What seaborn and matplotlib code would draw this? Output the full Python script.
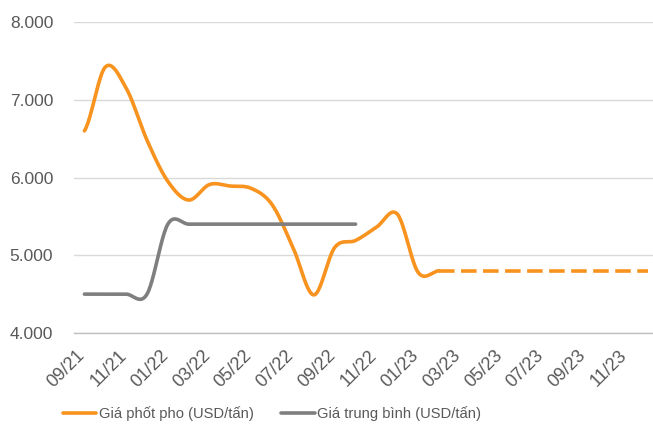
import numpy as np
import matplotlib
matplotlib.use("Agg")
import matplotlib.pyplot as plt
import matplotlib.transforms as mtransforms
import seaborn as sns
from matplotlib.ticker import FuncFormatter, FixedLocator

# Monthly categories 09/21 -> 12/23
months = ["09/21", "10/21", "11/21", "12/21", "01/22", "02/22", "03/22", "04/22",
          "05/22", "06/22", "07/22", "08/22", "09/22", "10/22", "11/22", "12/22",
          "01/23", "02/23", "03/23", "04/23", "05/23", "06/23", "07/23", "08/23",
          "09/23", "10/23", "11/23", "12/23"]

# Phosphorus price (USD/ton), actual 09/21 -> 02/23
phos_price = [6600, 7420, 7150, 6480, 5950, 5710, 5910, 5890, 5860, 5650,
              5100, 4490, 5100, 5190, 5360, 5530, 4780, 4800]
# Forecast 02/23 -> 12/23 (dashed)
phos_forecast = [4800, 4800, 4800, 4800, 4800, 4800, 4800, 4800, 4800, 4800, 4800]
# Average price (USD/ton), 09/21 -> 10/22
avg_price = [4500, 4500, 4500, 4500, 5400, 5400, 5400, 5400, 5400, 5400,
             5400, 5400, 5400, 5400]

ORANGE = "#F7931E"
GRAY = "#7F7F7F"
TEXT = "#595959"


def smooth(values, start=0, steps=24):
    # Excel-like smoothed line (Catmull-Rom bezier between points)
    p = np.asarray(values, dtype=float)
    ext = np.concatenate([[p[0]], p, [p[-1]]])
    xs, ys = [], []
    t = np.linspace(0, 1, steps, endpoint=False)
    for i in range(len(p) - 1):
        p0, p1, p2, p3 = ext[i], ext[i + 1], ext[i + 2], ext[i + 3]
        c1 = p1 + (p2 - p0) / 6
        c2 = p2 - (p3 - p1) / 6
        y = (1 - t) ** 3 * p1 + 3 * (1 - t) ** 2 * t * c1 + 3 * (1 - t) * t ** 2 * c2 + t ** 3 * p2
        xs.append(start + i + t)
        ys.append(y)
    xs.append([start + len(p) - 1])
    ys.append([p[-1]])
    return np.concatenate(xs), np.concatenate(ys)


sns.set_style("white")
plt.rcParams["font.family"] = ["Liberation Sans", "DejaVu Sans"]

fig = plt.figure(figsize=(6.53, 4.30), dpi=100)
ax = fig.add_axes([74 / 653, 97 / 430, 584 / 653, 311 / 430])

x1, y1 = smooth(phos_price)
sns.lineplot(x=x1, y=y1, ax=ax, color=ORANGE, linewidth=2.6, sort=False,
             label="Giá phốt pho (USD/tấn)")
x2, y2 = smooth(avg_price)
sns.lineplot(x=x2, y=y2, ax=ax, color=GRAY, linewidth=2.6, sort=False,
             label="Giá trung bình (USD/tấn)")
xf = np.arange(len(phos_price) - 1, len(phos_price) - 1 + len(phos_forecast))
sns.lineplot(x=xf, y=phos_forecast, ax=ax, color=ORANGE, linewidth=2.6,
             legend=False)
ax.lines[-1].set_dashes((4.3, 1.8))

ax.set_xlim(-0.5, len(months) - 0.5)
ax.set_ylim(4000, 8000)
ax.set_yticks([4000, 5000, 6000, 7000, 8000])
ax.yaxis.set_major_formatter(FuncFormatter(lambda v, _: f"{v:,.0f}".replace(",", ".")))
ax.grid(axis="y", color="#D9D9D9", linewidth=1)
ax.set_axisbelow(True)

label_idx = list(range(0, len(months), 2))
ax.set_xticks(label_idx)
ax.set_xticklabels([months[i] for i in label_idx], rotation=45, ha="right")
ax.xaxis.set_minor_locator(FixedLocator(np.arange(-0.5, len(months), 2)))
ax.tick_params(axis="x", which="major", length=0, pad=10, labelsize=13, colors=TEXT)
ax.tick_params(axis="x", which="minor", length=5, width=1, color="#BFBFBF")
ax.tick_params(axis="y", length=0, pad=15, labelsize=12.5, colors=TEXT)
ax.set_xlabel("")
ax.set_ylabel("")

# nudge rotated labels a little to the right, like the Excel original
shift = mtransforms.ScaledTranslation(4 / 100, 0, fig.dpi_scale_trans)
for lab in ax.get_xticklabels():
    lab.set_transform(lab.get_transform() + shift)

for s in ["top", "right", "left"]:
    ax.spines[s].set_visible(False)
ax.spines["bottom"].set_color("#BFBFBF")
ax.spines["bottom"].set_linewidth(1)

leg = ax.legend(loc="center", bbox_to_anchor=(272 / 653, 1 - 414 / 430),
                bbox_transform=fig.transFigure, ncol=2, frameon=False,
                fontsize=10.6, handlelength=2.3, handletextpad=0.15,
                columnspacing=1.9)
for t in leg.get_texts():
    t.set_color(TEXT)

fig.savefig("out.png", dpi=100)
